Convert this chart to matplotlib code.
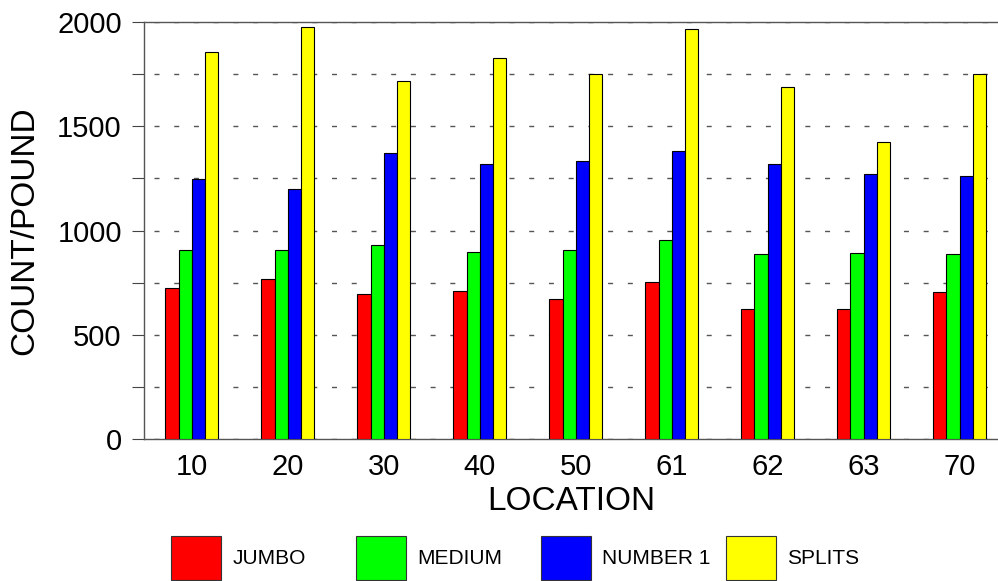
import numpy as np
import matplotlib
matplotlib.use('Agg')
import matplotlib.pyplot as plt
from matplotlib.patches import Patch
from matplotlib.ticker import MultipleLocator

plt.rcParams['font.family'] = ['Liberation Sans', 'DejaVu Sans']

locations = ['10', '20', '30', '40', '50', '61', '62', '63', '70']
series = ['JUMBO', 'MEDIUM', 'NUMBER 1', 'SPLITS']
jumbo = [724, 766, 697, 710, 670, 751, 622, 622, 705]
medium = [906, 906, 929, 895, 905, 956, 886, 891, 889]
number1 = [1247, 1198, 1370, 1317, 1332, 1380, 1317, 1270, 1260]
splits = [1856, 1978, 1715, 1827, 1749, 1966, 1687, 1424, 1751]
colors = ['#ff0000', '#00ff00', '#0000ff', '#ffff00']

fig = plt.figure(figsize=(9.98, 5.81), dpi=100)
ax = fig.add_axes([144/998, 1-439/581, 854/998, 417/581])

x = np.arange(len(locations))
w = 0.138
for i, (vals, c) in enumerate(zip([jumbo, medium, number1, splits], colors)):
    ax.bar(x + (i - 1.5)*w, vals, w, color=c, edgecolor='black', linewidth=0.8, zorder=3)

ax.set_xlim(-0.5, 8.4)
ax.set_ylim(0, 2000)
ax.yaxis.set_major_locator(MultipleLocator(500))
ax.yaxis.set_minor_locator(MultipleLocator(250))
ax.set_xticks(x)
ax.set_xticklabels(locations)
ax.tick_params(axis='x', length=0, pad=10, labelsize=21)
ax.tick_params(axis='y', which='both', length=9, width=0.8, color='#444444', pad=7, labelsize=21)

ax.grid(axis='y', which='both', color='#555555', linewidth=1, linestyle=(7, (3.6, 10.6)), zorder=0)
ax.set_axisbelow(True)

ax.spines['right'].set_visible(False)
for s in ['top', 'bottom', 'left']:
    ax.spines[s].set_color('#555555')
    ax.spines[s].set_linewidth(1)

ax.set_ylabel('COUNT/POUND', fontsize=24, labelpad=12)
ax.set_xlabel('LOCATION', fontsize=24, labelpad=4)

xs = [171, 356, 541, 726]
for name, c, px in zip(series, colors, xs):
    h = Patch(facecolor=c, edgecolor='#333333', linewidth=0.8)
    fig.legend(handles=[h], labels=[name], loc='upper left',
               bbox_to_anchor=(px/998, 1-536/581), frameon=False,
               borderpad=0, borderaxespad=0, fontsize=15,
               handlelength=2.4, handleheight=2.9, handletextpad=0.55)

fig.savefig('out.png', dpi=100)
